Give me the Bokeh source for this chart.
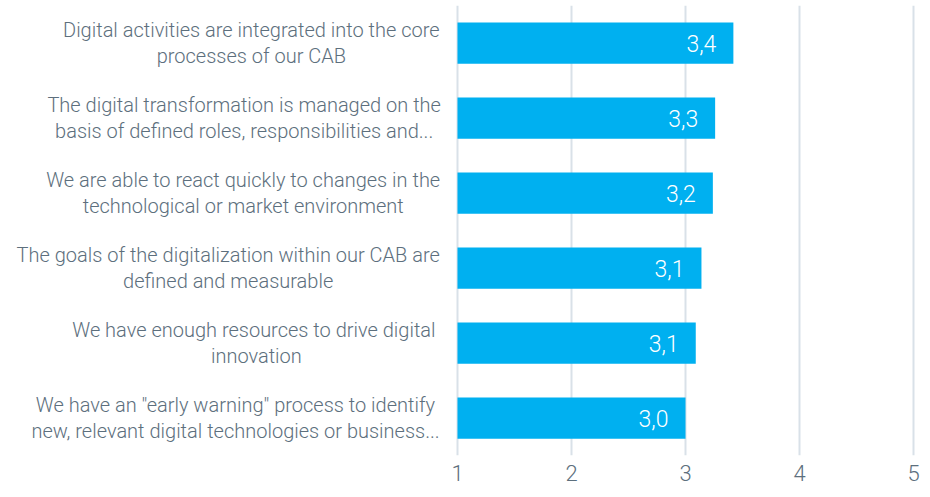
from bokeh.plotting import figure
from bokeh.models import Range1d, FixedTicker, ColumnDataSource
from bokeh.core.properties import value
from bokeh.embed import file_html
from bokeh.resources import INLINE

statements = [
    "Digital activities are integrated into the core\nprocesses of our CAB",
    "The digital transformation is managed on the\nbasis of defined roles, responsibilities and...",
    "We are able to react quickly to changes in the\ntechnological or market environment",
    "The goals of the digitalization within our CAB are\ndefined and measurable",
    "We have enough resources  to drive digital\ninnovation",
    "We have an \"early warning\" process to identify\nnew, relevant digital technologies or business...",
]
scores = [3.42, 3.26, 3.24, 3.14, 3.09, 3.00]
x_ticks = [1, 2, 3, 4, 5]

FONT = "Roboto Light, Roboto"
TXT = "#5d6f7d"
BAR = "#00b0f0"
CAT_SIZE = 20  # px

# approximate Roboto advance widths (units per em = 2048), used to centre the wrapped label lines
ADV = {" ": 507, ",": 393, ".": 527, '"': 639,
       "A": 1336, "B": 1275, "C": 1333, "D": 1343, "G": 1396, "T": 1222, "W": 1822,
       "a": 1114, "b": 1122, "c": 1047, "d": 1126, "e": 1058, "f": 693, "g": 1122, "h": 1103,
       "i": 486, "j": 478, "k": 1014, "l": 486, "m": 1753, "n": 1105, "o": 1141, "p": 1122,
       "q": 1122, "r": 678, "s": 1032, "t": 653, "u": 1102, "v": 968, "w": 1506, "x": 991,
       "y": 947, "z": 991}

def text_w(s, size):
    return sum(ADV.get(ch, 1050) for ch in s) / 2048 * size

idx = list(range(len(statements)))
labels = [f"{v:.1f}".replace(".", ",") for v in scores]
block_w = [max(text_w(line, CAT_SIZE) for line in s.split("\n")) for s in statements]
cat_off = [-17 - w / 2 for w in block_w]

src = ColumnDataSource(dict(y=idx, v=scores, lab=labels, cat=statements, one=[1] * len(idx), off=cat_off))

unit = 114.0
left_px = 457
W, H = 922, 489
p = figure(width=W, height=H, output_backend="svg", toolbar_location=None,
           x_range=Range1d(1 - left_px / unit, 1 + (W - left_px) / unit),
           y_range=Range1d(5.5, -0.5),
           min_border_left=0, min_border_right=0, min_border_top=5, min_border_bottom=34)
p.outline_line_color = None
p.background_fill_color = "white"
p.border_fill_color = "white"

p.hbar(y="y", left=1, right="v", height=0.55, source=src, fill_color=BAR, line_color=None)
p.text(x="v", y="y", text="lab", source=src, x_offset=-17, text_align="right", text_baseline="middle",
       text_color="white", text_font=value(FONT), text_font_size="23px")
p.text(x="one", y="y", text="cat", source=src, x_offset="off", text_align="center", text_baseline="middle",
       text_color=TXT, text_font=value(FONT), text_font_size=f"{CAT_SIZE}px", text_line_height=1.1)

p.yaxis.visible = False
p.ygrid.grid_line_color = None

p.xaxis.ticker = FixedTicker(ticks=x_ticks)
p.xgrid.ticker = FixedTicker(ticks=x_ticks)
p.xgrid.grid_line_color = "#d9e1e8"
p.xgrid.grid_line_width = 2
p.xaxis.axis_line_color = None
p.xaxis.major_tick_line_color = None
p.xaxis.minor_tick_line_color = None
p.xaxis.major_label_standoff = 3
p.xaxis.major_label_text_font = FONT
p.xaxis.major_label_text_font_size = "22px"
p.xaxis.major_label_text_color = TXT

open("out.html", "w").write(file_html(p, INLINE))
